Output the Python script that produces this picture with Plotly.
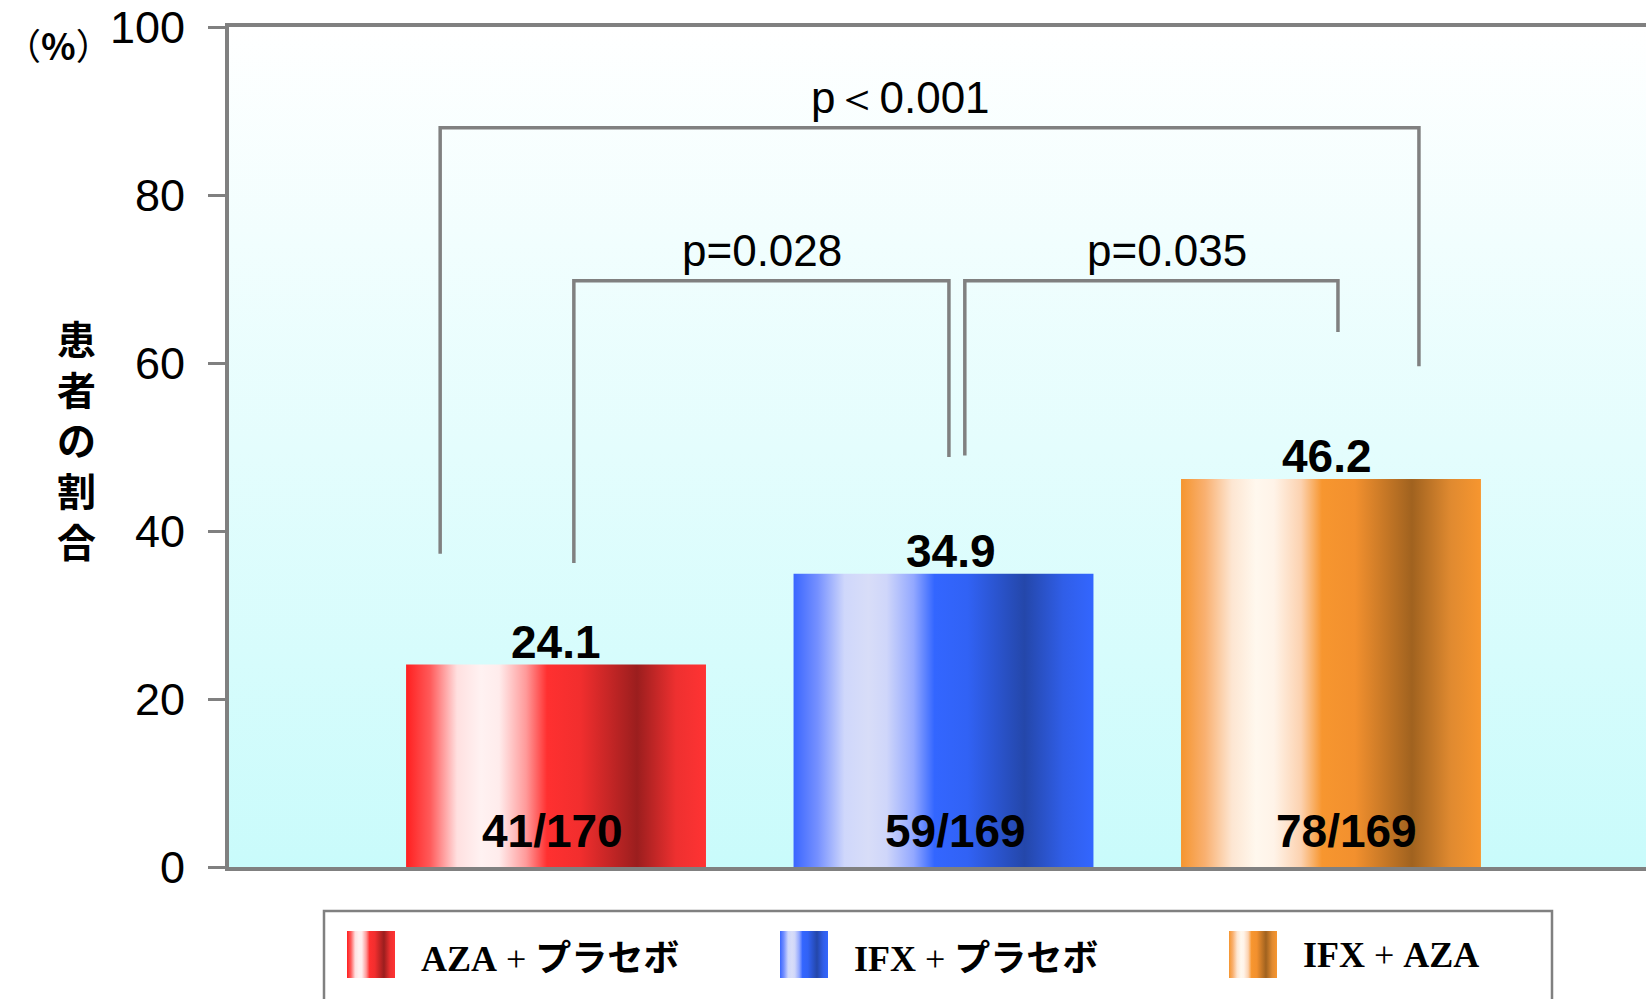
import plotly.graph_objects as go

# ---- data -------------------------------------------------------------
groups = ["AZA + プラセボ", "IFX + プラセボ", "IFX + AZA"]
rates = [24.1, 34.9, 46.2]                 # 患者の割合 (%)
counts = ["41/170", "59/169", "78/169"]    # 例数
y_ticks = [0, 20, 40, 60, 80, 100]

# significance brackets: left x, right x, left leg bottom, right leg bottom, top, label, label x
brackets = [
    (-0.299, 2.227, 37.3, 59.6, 88.0, "p＜0.001", 0.890),
    (0.046, 1.014, 36.2, 48.8, 69.8, "p=0.028", 0.532),
    (1.055, 2.018, 49.0, 63.7, 69.8, "p=0.035", 1.577),
]

# ---- styling ----------------------------------------------------------
W, H = 1646, 999
PLOT_L, PLOT_T, PLOT_B = 229, 27, 867
X_RANGE = [-0.844, 2.813]
BAR_W = 0.774
GRAY = "#808080"
SANS = "Liberation Sans"
CJK = "Noto Sans CJK JP"
SERIF = "Liberation Serif"

scales = [
    [[0, "#ff1f1f"], [0.08, "#ff5a5a"], [0.17, "#ffe0e0"], [0.25, "#fff2f2"],
     [0.31, "#ffecec"], [0.40, "#ff9a9a"], [0.47, "#ff3030"], [0.58, "#f22e2e"],
     [0.77, "#9b1e1e"], [0.90, "#ee3030"], [1, "#ff3333"]],
    [[0, "#3a66ff"], [0.08, "#7590ff"], [0.17, "#cfd7fb"], [0.25, "#d8ddf8"],
     [0.31, "#cfd6fa"], [0.40, "#93a8ff"], [0.47, "#3366ff"], [0.58, "#3162f5"],
     [0.77, "#2447aa"], [0.90, "#305ee8"], [1, "#3366ff"]],
    [[0, "#f5952f"], [0.08, "#f9b070"], [0.17, "#fde6d2"], [0.25, "#fff8ee"],
     [0.31, "#fff3e8"], [0.40, "#fcd2b0"], [0.47, "#f7962f"], [0.58, "#f2902e"],
     [0.77, "#a0621f"], [0.90, "#e08a30"], [1, "#f7962f"]],
]

value_dx = [0.0, 0.02, -0.01]
count_dx = [-0.01, 0.03, 0.04]

fig = go.Figure()

# plot-area background: white at the top fading to pale cyan
fig.add_trace(go.Scatter(
    x=[X_RANGE[0], X_RANGE[1], X_RANGE[1], X_RANGE[0]], y=[0, 0, 100, 100],
    mode="lines", line=dict(width=0), fill="toself",
    fillgradient=dict(type="vertical", colorscale=[[0, "#c9fbfb"], [1, "#ffffff"]]),
    hoverinfo="skip", showlegend=False, xaxis="x", yaxis="y",
))

# bars with metallic horizontal gradient
for i, (v, cs) in enumerate(zip(rates, scales)):
    fig.add_trace(go.Scatter(
        x=[i - BAR_W / 2, i + BAR_W / 2, i + BAR_W / 2, i - BAR_W / 2],
        y=[0, 0, v, v], mode="lines", line=dict(width=0), fill="toself",
        fillgradient=dict(type="horizontal", colorscale=cs),
        name=groups[i], hoverinfo="skip", showlegend=False,
    ))

# significance brackets
for x0, x1, yl, yr, top, label, lx in brackets:
    fig.add_trace(go.Scatter(
        x=[x0, x0, x1, x1], y=[yl, top, top, yr], mode="lines",
        line=dict(color=GRAY, width=3.5), hoverinfo="skip", showlegend=False,
    ))

annotations = []
for i, v in enumerate(rates):
    annotations.append(dict(
        x=i + value_dx[i], y=v, xref="x", yref="y", text=f"<b>{v}</b>",
        showarrow=False, yanchor="bottom", yshift=-5,
        font=dict(family=SANS, size=46, color="black"),
    ))
    annotations.append(dict(
        x=i + count_dx[i], y=0, xref="x", yref="y", text=f"<b>{counts[i]}</b>",
        showarrow=False, yanchor="middle", yshift=36,
        font=dict(family=SANS, size=46, color="black"),
    ))
for x0, x1, yl, yr, top, label, lx in brackets:
    annotations.append(dict(
        x=lx, y=top, xref="x", yref="y", text=label,
        showarrow=False, yanchor="bottom", yshift=4,
        font=dict(family=SANS, size=44, color="black"),
    ))

# vertical axis title, one character per line
annotations.append(dict(
    x=76 / W, y=1 - 438 / H, xref="paper", yref="paper",
    text="<br>".join(f"<b>{ch}</b>" for ch in "患者の割合"),
    showarrow=False, xanchor="center", yanchor="middle",
    font=dict(family=CJK, size=39, color="black"),
))
annotations.append(dict(
    x=58 / W, y=1 - 44 / H, xref="paper", yref="paper", text="（<b>%</b>）",
    showarrow=False, xanchor="center", yanchor="middle", borderpad=0,
    font=dict(family=CJK, size=36, color="black"),
))

# legend: gradient swatches drawn on a pixel-scaled helper axis
sw_x = [347, 780, 1229]
sw_size = 48
legend_texts = [
    f"<span style=\"font-family:'{SERIF}'\"><b>AZA</b> + </span><b>プラセボ</b>",
    f"<span style=\"font-family:'{SERIF}'\"><b>IFX</b> + </span><b>プラセボ</b>",
    f"<span style=\"font-family:'{SERIF}'\"><b>IFX</b> + <b>AZA</b></span>",
]
for i, sx in enumerate(sw_x):
    fig.add_trace(go.Scatter(
        x=[sx, sx + sw_size, sx + sw_size, sx], y=[931, 931, 978, 978],
        mode="lines", line=dict(width=0), fill="toself",
        fillgradient=dict(type="horizontal", colorscale=scales[i]),
        hoverinfo="skip", showlegend=False, xaxis="x2", yaxis="y2",
    ))
    annotations.append(dict(
        x=(sx + sw_size + 24) / W, y=1 - 955 / H, xref="paper", yref="paper",
        text=legend_texts[i], showarrow=False, xanchor="left", yanchor="middle",
        font=dict(family=CJK, size=36, color="black"),
    ))

shapes = [dict(
    type="rect", xref="paper", yref="paper",
    x0=324 / W, x1=1552 / W, y0=-0.05, y1=1 - 911 / H,
    line=dict(color=GRAY, width=2.5), fillcolor="rgba(0,0,0,0)", layer="below",
)]

fig.update_layout(
    width=W, height=H,
    margin=dict(l=0, r=0, t=0, b=0, pad=0, autoexpand=False),
    paper_bgcolor="white", plot_bgcolor="white",
    showlegend=False,
    xaxis=dict(
        domain=[PLOT_L / W, 1], range=X_RANGE, showline=True, mirror=True,
        linecolor=GRAY, linewidth=4, showticklabels=False, ticks="",
        showgrid=False, zeroline=False, fixedrange=True, automargin=False,
    ),
    yaxis=dict(
        domain=[1 - PLOT_B / H, 1 - PLOT_T / H], range=[0, 100],
        tickvals=y_ticks, ticks="outside", ticklen=17, tickwidth=2.5,
        tickcolor=GRAY, showline=True, linecolor=GRAY, linewidth=4,
        showgrid=False, zeroline=False, ticklabelstandoff=14,
        tickfont=dict(family=SANS, size=45, color="black"), fixedrange=True,
        automargin=False,
    ),
    xaxis2=dict(domain=[0, 1], range=[0, W], visible=False, anchor="y2",
                fixedrange=True, automargin=False),
    yaxis2=dict(domain=[0, 1 - PLOT_B / H], range=[H, PLOT_B], visible=False,
                anchor="x2", fixedrange=True, automargin=False),
    annotations=annotations,
    shapes=shapes,
)

fig.write_html("out.html")
